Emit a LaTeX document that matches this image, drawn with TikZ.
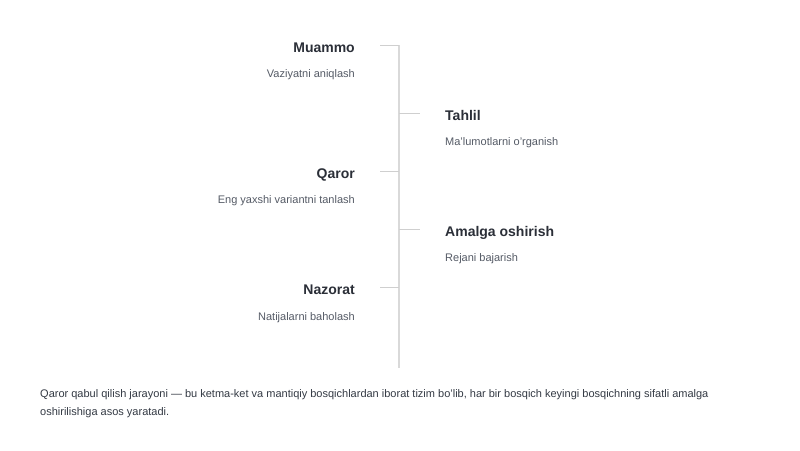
\documentclass[tikz,border=0pt]{standalone}
\usepackage{fontspec}
\setmainfont{Liberation Sans}
\begin{document}
\begin{tikzpicture}[x=1pt,y=-1pt,
  ttl/.style={font=\fontsize{14}{16}\selectfont\bfseries, text=titlec, inner sep=0pt},
  sub/.style={font=\fontsize{11}{13}\selectfont, text=subc, inner sep=0pt},
  tick/.style={draw=linec, line width=1pt},
  spine/.style={draw=linec!80, line width=1.2pt}]
\definecolor{titlec}{HTML}{2B2F38}
\definecolor{subc}{HTML}{555B66}
\definecolor{linec}{HTML}{CFCFCF}
\definecolor{bodyc}{HTML}{343A44}
\useasboundingbox[fill=white] (0,0) rectangle (800,450);
% spine
\coordinate (top) at (399,45);
\coordinate (bot) at (399,368);
\draw[spine] (top) -- (bot);
% left items
\node[ttl, anchor=base east] (t1) at (355,52) {Muammo};
\node[sub, anchor=base east] (s1) at (355,77) {Vaziyatni aniqlash};
\node[ttl, anchor=base east] (t3) at (355,178) {Qaror};
\node[sub, anchor=base east] (s3) at (355,203) {Eng yaxshi variantni tanlash};
\node[ttl, anchor=base east] (t5) at (355,294) {Nazorat};
\node[sub, anchor=base east] (s5) at (355,320) {Natijalarni baholash};
% right items
\node[ttl, anchor=base west] (t2) at (445,120) {Tahlil};
\node[sub, anchor=base west] (s2) at (445,145) {Ma'lumotlarni o'rganish};
\node[ttl, anchor=base west] (t4) at (445,236) {Amalga oshirish};
\node[sub, anchor=base west] (s4) at (445,261) {Rejani bajarish};
% ticks
\coordinate (k1a) at (380,45); \coordinate (k1b) at (399,45);
\coordinate (k2a) at (399,113); \coordinate (k2b) at (420,113);
\coordinate (k3a) at (380,171); \coordinate (k3b) at (399,171);
\coordinate (k4a) at (399,229); \coordinate (k4b) at (420,229);
\coordinate (k5a) at (380,287); \coordinate (k5b) at (399,287);
\draw[tick] (k1a) -- (k1b);
\draw[tick] (k2a) -- (k2b);
\draw[tick] (k3a) -- (k3b);
\draw[tick] (k4a) -- (k4b);
\draw[tick] (k5a) -- (k5b);
% caption
\node[font=\fontsize{11}{18}\selectfont, text=bodyc, inner sep=0pt, anchor=base west, align=left] (cap) at (40,415)
  {Qaror qabul qilish jarayoni — bu ketma-ket va mantiqiy bosqichlardan iborat tizim bo'lib, har bir bosqich keyingi bosqichning sifatli amalga\\oshirilishiga asos yaratadi.};
\end{tikzpicture}
\end{document}
